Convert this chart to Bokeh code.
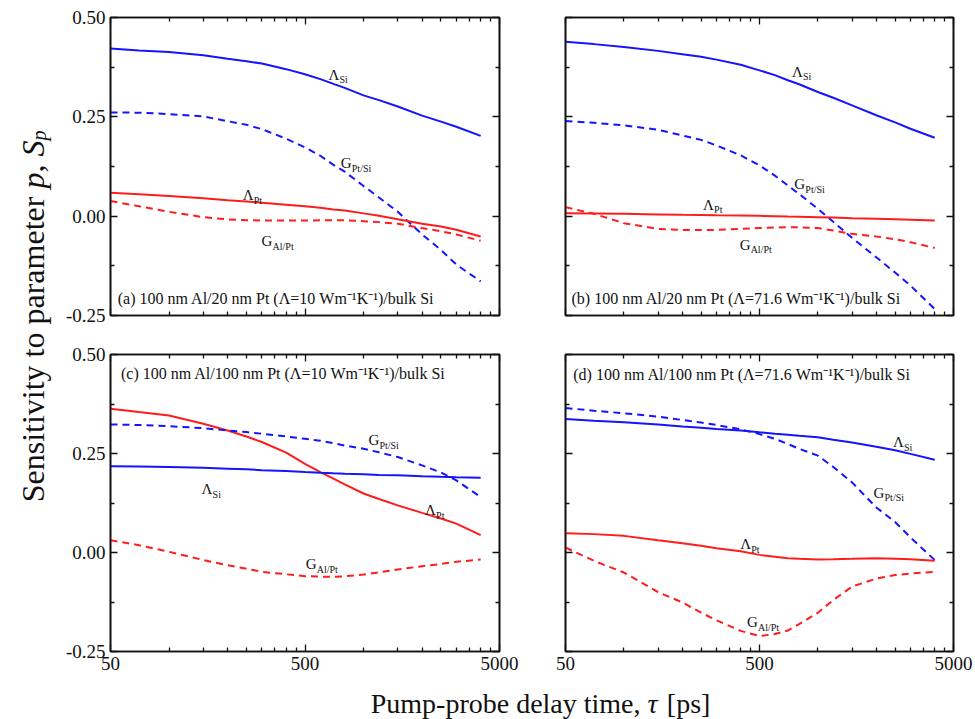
import math
from bokeh.plotting import figure
from bokeh.models import (LogAxis, LinearAxis, FixedTicker, NumeralTickFormatter,
                          CustomJSTickFormatter, Range1d, ColumnDataSource, Spacer, Grid)
from bokeh.layouts import row, column
from bokeh.core.properties import value
from bokeh.embed import file_html
from bokeh.resources import INLINE

# ---------------- data ----------------
delay_ps = [50, 70, 100, 150, 200, 250, 300, 400, 500, 600, 700, 800, 1000, 1200, 1500, 2000, 2500, 3000, 4000]

a_lambda_si = [0.422, 0.417, 0.413, 0.405, 0.396, 0.390, 0.384, 0.370, 0.357, 0.345, 0.333, 0.323, 0.304, 0.292, 0.276, 0.253, 0.238, 0.225, 0.202]
a_g_ptsi    = [0.261, 0.2605, 0.257, 0.251, 0.239, 0.230, 0.219, 0.195, 0.173, 0.152, 0.129, 0.112, 0.076, 0.047, 0.011, -0.046, -0.085, -0.122, -0.164]
a_lambda_pt = [0.059, 0.055, 0.0506, 0.045, 0.040, 0.037, 0.034, 0.029, 0.025, 0.021, 0.017, 0.014, 0.007, 0.001, -0.008, -0.019, -0.026, -0.034, -0.051]
a_g_alpt    = [0.038, 0.025, 0.011, -0.0025, -0.008, -0.010, -0.011, -0.011, -0.011, -0.0105, -0.010, -0.0105, -0.0127, -0.015, -0.019, -0.030, -0.038, -0.046, -0.062]

b_lambda_si = [0.4387, 0.433, 0.426, 0.416, 0.4076, 0.401, 0.394, 0.381, 0.367, 0.355, 0.342, 0.332, 0.3126, 0.298, 0.279, 0.254, 0.236, 0.220, 0.1975]
b_g_ptsi    = [0.2395, 0.235, 0.2286, 0.2176, 0.203, 0.192, 0.178, 0.153, 0.1277, 0.102, 0.0773, 0.056, 0.0185, -0.014, -0.0546, -0.1034, -0.142, -0.1748, -0.2336]
b_lambda_pt = [0.0076, 0.0068, 0.0059, 0.0045, 0.0035, 0.003, 0.002, 0.0014, 0.0008, 0.0, -0.0008, -0.0013, -0.0025, -0.0035, -0.005, -0.0067, -0.008, -0.009, -0.011]
b_g_alpt    = [0.0227, 0.006, -0.0176, -0.032, -0.0345, -0.035, -0.0345, -0.032, -0.030, -0.0285, -0.0277, -0.028, -0.030, -0.036, -0.0445, -0.051, -0.058, -0.0655, -0.080]

c_lambda_pt = [0.363, 0.3546, 0.346, 0.325, 0.308, 0.293, 0.279, 0.252, 0.224, 0.203, 0.1866, 0.172, 0.149, 0.135, 0.119, 0.100, 0.086, 0.073, 0.0437]
c_g_ptsi    = [0.3235, 0.322, 0.319, 0.314, 0.308, 0.304, 0.300, 0.293, 0.287, 0.282, 0.276, 0.270, 0.262, 0.253, 0.241, 0.220, 0.202, 0.182, 0.140]
c_lambda_si = [0.2176, 0.217, 0.216, 0.214, 0.2118, 0.210, 0.208, 0.206, 0.2034, 0.2015, 0.200, 0.199, 0.1975, 0.196, 0.195, 0.1924, 0.191, 0.190, 0.189]
c_g_alpt    = [0.0311, 0.0185, 0.0017, -0.019, -0.032, -0.041, -0.0487, -0.055, -0.0597, -0.061, -0.0613, -0.060, -0.0555, -0.050, -0.043, -0.0345, -0.029, -0.0235, -0.0176]

d_g_ptsi    = [0.365, 0.358, 0.3516, 0.343, 0.3347, 0.328, 0.322, 0.311, 0.299, 0.287, 0.274, 0.262, 0.2445, 0.216, 0.177, 0.1138, 0.077, 0.038, -0.019]
d_lambda_si = [0.337, 0.333, 0.329, 0.323, 0.318, 0.315, 0.312, 0.308, 0.3035, 0.300, 0.2976, 0.295, 0.291, 0.285, 0.278, 0.267, 0.258, 0.249, 0.234]
d_lambda_pt = [0.0489, 0.0464, 0.042, 0.031, 0.0236, 0.017, 0.011, 0.003, -0.006, -0.0105, -0.0143, -0.016, -0.0177, -0.017, -0.016, -0.0143, -0.0155, -0.0169, -0.021]
d_g_alpt    = [0.0126, -0.021, -0.0506, -0.100, -0.126, -0.152, -0.171, -0.198, -0.211, -0.206, -0.197, -0.181, -0.152, -0.120, -0.086, -0.066, -0.057, -0.053, -0.049]

x_major_ticks = [50, 500, 5000]
x_minor_ticks = [100, 150, 200, 250, 300, 350, 400, 450,
                 1000, 1500, 2000, 2500, 3000, 3500, 4000, 4500]
y_major_ticks = [-0.25, 0.0, 0.25, 0.50]
y_minor_ticks = [-0.125, 0.125, 0.375]

panel_titles = {
    "a": "(a) 100 nm Al/20 nm Pt (Λ=10 Wm⁻¹K⁻¹)/bulk Si",
    "b": "(b) 100 nm Al/20 nm Pt (Λ=71.6 Wm⁻¹K⁻¹)/bulk Si",
    "c": "(c) 100 nm Al/100 nm Pt (Λ=10 Wm⁻¹K⁻¹)/bulk Si",
    "d": "(d) 100 nm Al/100 nm Pt (Λ=71.6 Wm⁻¹K⁻¹)/bulk Si",
}
panel_title_pos = {"a": (54.5, -0.2066), "b": (53.7, -0.2067), "c": (56.6, 0.451), "d": (54.8, 0.4486)}

curve_labels = {
    "a": [("Λ", "Si", 660, 0.368), ("G", "Pt/Si", 764, 0.146), ("Λ", "Pt", 239, 0.065), ("G", "Al/Pt", 299, -0.0506)],
    "b": [("Λ", "Si", 735, 0.3756), ("G", "Pt/Si", 756, 0.0924), ("Λ", "Pt", 256, 0.041), ("G", "Al/Pt", 395, -0.0588)],
    "c": [("G", "Pt/Si", 1059, 0.296), ("Λ", "Si", 147, 0.172), ("Λ", "Pt", 2072, 0.119), ("G", "Al/Pt", 504, -0.0176)],
    "d": [("Λ", "Si", 2435, 0.291), ("G", "Pt/Si", 1936, 0.164), ("Λ", "Pt", 398, 0.0337), ("G", "Al/Pt", 431, -0.163)],
}

BLUE = "#1414ff"
RED = "#ff1c1c"
FONT = "Liberation Serif"
AXFONT = "'Liberation Serif', serif"
INK = "#111111"

panel_series = {
    "a": [(a_lambda_si, BLUE, "solid"), (a_g_ptsi, BLUE, "dashed"), (a_lambda_pt, RED, "solid"), (a_g_alpt, RED, "dashed")],
    "b": [(b_lambda_si, BLUE, "solid"), (b_g_ptsi, BLUE, "dashed"), (b_lambda_pt, RED, "solid"), (b_g_alpt, RED, "dashed")],
    "c": [(c_lambda_pt, RED, "solid"), (c_g_ptsi, BLUE, "dashed"), (c_lambda_si, BLUE, "solid"), (c_g_alpt, RED, "dashed")],
    "d": [(d_g_ptsi, BLUE, "dashed"), (d_lambda_si, BLUE, "solid"), (d_lambda_pt, RED, "solid"), (d_g_alpt, RED, "dashed")],
}


def hide_grids(p):
    for r in list(p.center):
        if isinstance(r, Grid):
            r.visible = False


def style_axis(ax, show_labels, fmt):
    ax.axis_line_color = INK
    ax.axis_line_width = 1.6
    ax.major_tick_in = 7
    ax.major_tick_out = 0
    ax.minor_tick_in = 4
    ax.minor_tick_out = 0
    ax.major_tick_line_color = INK
    ax.minor_tick_line_color = INK
    ax.major_tick_line_width = 1.3
    ax.minor_tick_line_width = 1.3
    if show_labels:
        ax.formatter = fmt
        ax.major_label_text_font = AXFONT
        ax.major_label_text_font_size = "19px"
        ax.major_label_text_color = INK
        ax.major_label_standoff = 5
    else:
        ax.formatter = CustomJSTickFormatter(code="return ''")
        ax.major_label_text_font_size = "0px"
        ax.major_label_standoff = 0


def make_panel(key, width, height, borders, show_x, show_y):
    top, right, bottom, left = borders
    p = figure(width=width, height=height, x_axis_type="log", title=None,
               x_range=Range1d(50, 5000), y_range=Range1d(-0.25, 0.5),
               x_axis_location=None, y_axis_location=None,
               toolbar_location=None, output_backend="svg",
               min_border_top=top, min_border_right=right,
               min_border_bottom=bottom, min_border_left=left,
               background_fill_color="white", border_fill_color="white")
    p.outline_line_color = INK
    p.outline_line_width = 1.6
    hide_grids(p)

    for loc in ("below", "above"):
        ax = LogAxis(ticker=FixedTicker(ticks=x_major_ticks, minor_ticks=x_minor_ticks))
        style_axis(ax, show_x and loc == "below", NumeralTickFormatter(format="0"))
        p.add_layout(ax, loc)
    for loc in ("left", "right"):
        ax = LinearAxis(ticker=FixedTicker(ticks=y_major_ticks, minor_ticks=y_minor_ticks))
        style_axis(ax, show_y and loc == "left", NumeralTickFormatter(format="0.00"))
        p.add_layout(ax, loc)

    for ys, color, dash in panel_series[key]:
        src = ColumnDataSource(dict(x=delay_ps, y=ys))
        p.line("x", "y", source=src, line_color=color, line_width=2.0,
               line_dash="7 5" if dash == "dashed" else "solid")

    labs = curve_labels[key]
    p.text(x=[l[2] for l in labs], y=[l[3] for l in labs], text=[l[0] for l in labs],
           text_font=value(FONT), text_font_size="15px", text_color=INK,
           text_align="left", text_baseline="alphabetic", y_offset=5)
    p.text(x=[l[2] for l in labs], y=[l[3] for l in labs], text=[l[1] for l in labs],
           text_font=value(FONT), text_font_size="10px", text_color=INK,
           text_align="left", text_baseline="alphabetic", x_offset=11, y_offset=10)

    tx, ty = panel_title_pos[key]
    p.text(x=[tx], y=[ty], text=[panel_titles[key]], text_font=value(FONT),
           text_font_size="16px", text_color=INK, text_align="left",
           text_baseline="middle")
    return p


LEFT_W, RIGHT_W = 474, 443
TOP_H, BOT_H = 335, 350
YLAB_W, XLAB_H = 58, 34

pa = make_panel("a", LEFT_W, TOP_H, (17, 33, 20, 52), False, True)
pb = make_panel("b", RIGHT_W, TOP_H, (17, 22, 20, 33), False, False)
pc = make_panel("c", LEFT_W, BOT_H, (19, 33, 34, 52), True, True)
pd = make_panel("d", RIGHT_W, BOT_H, (19, 22, 34, 33), True, False)

# ---- y-axis title (drawn in a narrow pixel-unit figure) ----
ylab_h = TOP_H + BOT_H
yl = figure(width=YLAB_W, height=ylab_h, title=None, x_range=Range1d(0, YLAB_W), y_range=Range1d(0, ylab_h),
            toolbar_location=None, output_backend="svg", min_border=0,
            x_axis_location=None, y_axis_location=None, outline_line_color=None)
hide_grids(yl)
FY = 32
emy = FY / 1000.0
w_main = 9555 * emy
pieces_len = w_main + 1.75 * FY + 10
y_center_page = 316
y_start = (ylab_h - y_center_page) - pieces_len / 2
A = y_start + w_main
bx = 32
common = dict(angle=math.pi / 2, text_font=value(FONT), text_baseline="alphabetic", text_color=INK)
yl.text(x=[bx], y=[A], text=["Sensitivity to parameter"], text_font_size=f"{FY}px", text_align="right", **common)
yl.text(x=[bx], y=[A + 0.25 * FY], text=["p"], text_font_style="italic", text_font_size=f"{FY}px", text_align="left", **common)
yl.text(x=[bx], y=[A + 0.75 * FY], text=[","], text_font_size=f"{FY}px", text_align="left", **common)
yl.text(x=[bx], y=[A + 1.25 * FY], text=["S"], text_font_style="italic", text_font_size=f"{FY}px", text_align="left", **common)
yl.text(x=[bx + 6], y=[A + 1.75 * FY], text=["p"], text_font_style="italic", text_font_size="20px", text_align="left", **common)

# ---- x-axis title ----
xlab_w = LEFT_W + RIGHT_W
xl = figure(width=xlab_w, height=XLAB_H, title=None, x_range=Range1d(0, xlab_w), y_range=Range1d(0, XLAB_H),
            toolbar_location=None, output_backend="svg", min_border=0,
            x_axis_location=None, y_axis_location=None, outline_line_color=None)
hide_grids(xl)
F = 28
em = F / 1000.0
wx_main = 9638 * em
x_len = wx_main + 7 + 12.3 + 7 + 43.5
x_start = (540 - YLAB_W) - x_len / 2
AX = x_start + wx_main
base_y = 16
xcommon = dict(text_font=value(FONT), text_font_size=f"{F}px", text_baseline="alphabetic", text_color=INK)
xl.text(x=[AX], y=[base_y], text=["Pump-probe delay time,"], text_align="right", **xcommon)
xl.text(x=[AX + 7], y=[base_y], text=["τ"], text_font_style="italic", text_align="left", **xcommon)
xl.text(x=[AX + 26.3], y=[base_y], text=["[ps]"], text_align="left", **xcommon)

layout = column(
    row(yl, column(row(pa, pb), row(pc, pd))),
    row(Spacer(width=YLAB_W, height=XLAB_H), xl),
)

open("out.html", "w").write(file_html(layout, INLINE))
